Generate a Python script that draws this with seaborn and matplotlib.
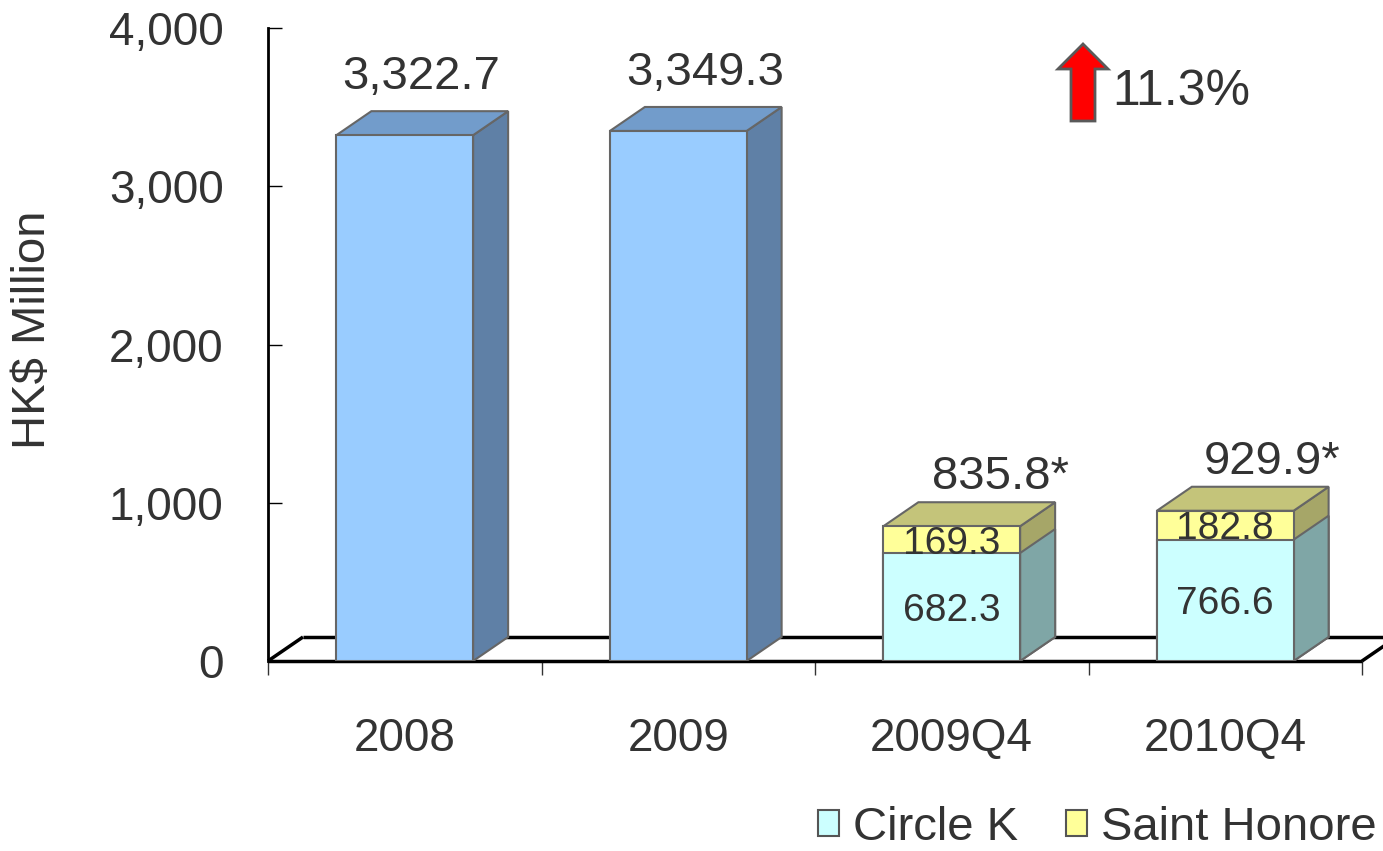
import numpy as np
import pandas as pd
import matplotlib
matplotlib.use("Agg")
import matplotlib.pyplot as plt
import seaborn as sns
from matplotlib.patches import Polygon, Rectangle

# ---------------- data ----------------
categories = ["2008", "2009", "2009Q4", "2010Q4"]
annual_values = [3322.7, 3349.3]          # 2008, 2009
circle_k = [682.3, 766.6]                 # 2009Q4, 2010Q4
saint_honore = [169.3, 182.8]             # 2009Q4, 2010Q4
quarter_totals = [835.8, 929.9]           # reported totals (with *)
y_ticks = [0, 1000, 2000, 3000, 4000]
legend_labels = ["Circle K", "Saint Honore"]
growth_label = "11.3%"

# ---------------- style ----------------
W, H = 1383, 851
TXT = "#333333"
EDGE = "#666666"
BLUE_F, BLUE_S, BLUE_T = "#99CCFF", "#5F80A6", "#729CCB"
CK_F, CK_S = "#CCFFFF", "#7FA6A6"
SH_F, SH_S, SH_T = "#FFFF99", "#A6A668", "#C4C47A"

sns.set_theme(style="white")
plt.rcParams["font.family"] = ["Liberation Sans", "DejaVu Sans"]

fig = plt.figure(figsize=(W / 100, H / 100), dpi=100)
ax = fig.add_axes([268 / W, (H - 661) / H, 1094 / W, 633 / H])

df_annual = pd.DataFrame({"cat": categories[:2], "val": annual_values})
df_q = pd.DataFrame({"cat": categories[2:], "ck": circle_k, "sh": saint_honore})
df_q["total"] = df_q["ck"] + df_q["sh"]

def draw(df, col, color):
    n0 = len(ax.patches)
    sns.barplot(data=df, x="cat", y=col, order=categories, color=color,
                saturation=1, width=0.5, edgecolor=EDGE, linewidth=1.5,
                errorbar=None, ax=ax, zorder=3)
    return [p for p in ax.patches[n0:] if np.isfinite(p.get_height()) and p.get_height() > 0]

p_annual = draw(df_annual, "val", BLUE_F)
p_total = draw(df_q, "total", SH_F)
p_ck = draw(df_q, "ck", CK_F)

ax.set_xlim(-0.5, 3.5)
ax.set_ylim(0, 4000)

# depth offsets (data units)
DX = 35 / 273.5
DY = 24 / (633 / 4000)

def faces(p, side_c, top_c, z, top=True):
    x0, w = p.get_x(), p.get_width()
    y0, h = p.get_y(), p.get_height()
    side = Polygon([(x0 + w, y0), (x0 + w + DX, y0 + DY), (x0 + w + DX, y0 + h + DY), (x0 + w, y0 + h)],
                   closed=True, facecolor=side_c, edgecolor=EDGE, lw=1.5, zorder=z)
    ax.add_patch(side)
    if top:
        tp = Polygon([(x0, y0 + h), (x0 + DX, y0 + h + DY), (x0 + w + DX, y0 + h + DY), (x0 + w, y0 + h)],
                     closed=True, facecolor=top_c, edgecolor=EDGE, lw=1.5, zorder=z)
        ax.add_patch(tp)

for p in p_annual:
    faces(p, BLUE_S, BLUE_T, 2.9)
for p in p_total:
    faces(p, SH_S, SH_T, 2.9)
for p in p_ck:
    faces(p, CK_S, None, 2.95, top=False)

# floor
fl = dict(color="black", lw=2.5, zorder=1, clip_on=False, solid_capstyle="butt")
ax.plot([-0.5, 3.5], [0, 0], **fl)
ax.plot([-0.5 + DX, 3.5 + DX], [DY, DY], **fl)
ax.plot([-0.5, -0.5 + DX], [0, DY], **fl)
ax.plot([3.5, 3.5 + DX], [0, DY], **fl)

# axes styling
for s in ["top", "right", "bottom"]:
    ax.spines[s].set_visible(False)
ax.spines["left"].set_color("black")
ax.spines["left"].set_linewidth(2)
ax.set_yticks(y_ticks)
ax.set_yticklabels([f"{v:,}" for v in y_ticks])
ax.tick_params(axis="y", direction="in", length=10, width=1, color="black",
               pad=32, labelsize=33, labelcolor=TXT, left=True)
ax.set_xticks(range(len(categories)))
ax.set_xticklabels(categories)
ax.tick_params(axis="x", which="major", length=0, pad=40, labelsize=33, labelcolor=TXT)
ax.set_xticks(np.arange(-0.5, len(categories), 1), minor=True)
ax.tick_params(axis="x", which="minor", direction="out", length=10, width=1,
               color="#333333", bottom=True)
ax.set_xlabel("")
ax.set_ylabel("HK$ Million", fontsize=34, color=TXT)
ax.yaxis.set_label_coords(-0.195, 0.523)

# value labels
top_shift = [0.06, 0.10, 0.18, 0.17]
for i, p in enumerate(p_annual):
    xc = p.get_x() + p.get_width() / 2
    ax.text(xc + top_shift[i], p.get_height() + 292, f"{annual_values[i]:,.1f}",
            ha="center", va="baseline", fontsize=34, color=TXT, zorder=5)
for j, p in enumerate(p_total):
    xc = p.get_x() + p.get_width() / 2
    ax.text(xc + top_shift[2 + j], p.get_height() + 235, f"{quarter_totals[j]:,.1f}*",
            ha="center", va="baseline", fontsize=34, color=TXT, zorder=5)
    ck = circle_k[j]
    ax.text(xc, ck + saint_honore[j] / 2, f"{saint_honore[j]:.1f}",
            ha="center", va="center_baseline", fontsize=28, color=TXT, zorder=5)
    ax.text(xc, ck / 2, f"{ck:.1f}",
            ha="center", va="center_baseline", fontsize=28, color=TXT, zorder=5)

# growth arrow + label
arrow_px = [(1083, 44), (1108, 69), (1095, 69), (1095, 121), (1071, 121), (1071, 69), (1058, 69)]
fig.patches.append(Polygon([(x / W, 1 - y / H) for x, y in arrow_px], closed=True,
                           facecolor="#FF0000", edgecolor="#595959", lw=2,
                           transform=fig.transFigure))
fig.text(1112 / W, 1 - 105 / H, growth_label, ha="left", va="baseline", fontsize=36, color=TXT)

# legend
handles = [Rectangle((0, 0), 1, 1, facecolor=CK_F, edgecolor="#555555", lw=1.5),
           Rectangle((0, 0), 1, 1, facecolor=SH_F, edgecolor="#555555", lw=1.5)]
fig.legend(handles, legend_labels, loc="center left", bbox_to_anchor=(818 / W, 1 - 828 / H),
           ncol=2, frameon=False, fontsize=34, handlelength=0.45, handleheight=0.45,
           handletextpad=0.3, columnspacing=1.0, borderpad=0, borderaxespad=0,
           labelcolor=TXT)

fig.savefig("out.png", dpi=100)
